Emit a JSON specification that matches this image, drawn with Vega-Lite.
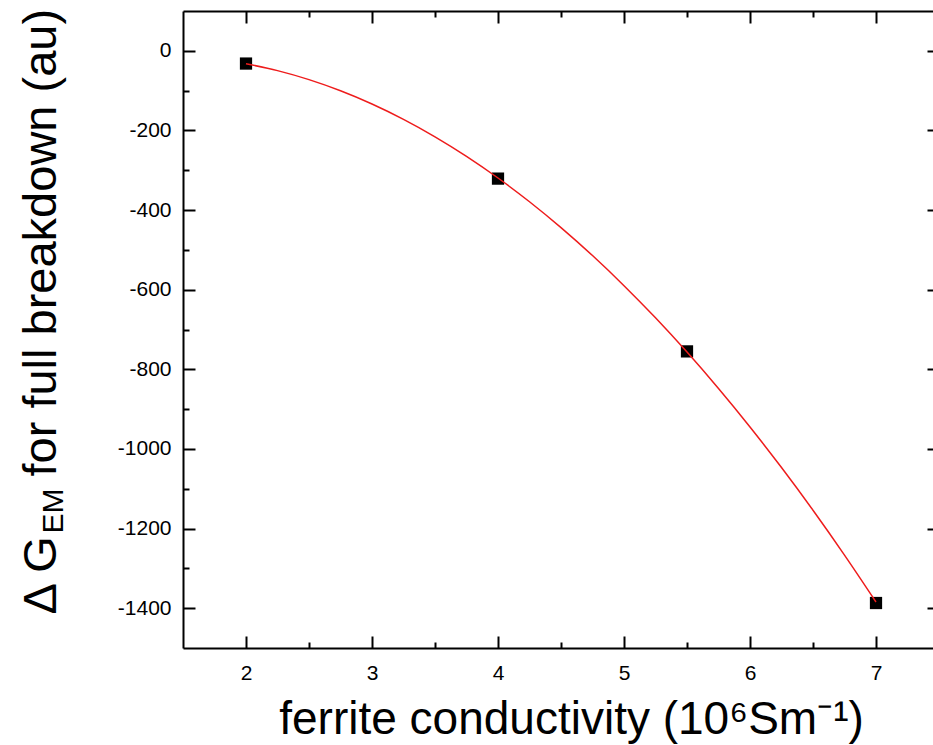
{
  "$schema": "https://vega.github.io/schema/vega-lite/v6.json",
  "width": 756,
  "height": 637,
  "autosize": {"type": "none"},
  "padding": {"left": 183, "top": 11, "right": -6, "bottom": 97},
  "background": "white",
  "config": {
    "view": {"stroke": null},
    "axis": {
      "labelFont": "Liberation Sans",
      "titleFont": "Liberation Sans",
      "labelColor": "black",
      "titleColor": "black",
      "domainColor": "black",
      "tickColor": "black",
      "domainWidth": 2,
      "tickWidth": 2,
      "grid": false,
      "titleFontWeight": "normal",
      "labelFontSize": 21,
      "labelOverlap": false,
      "labelFlush": false
    }
  },
  "datasets": {
    "measured": [
      {"sigma": 2.0, "dG": -32},
      {"sigma": 4.0, "dG": -321},
      {"sigma": 5.5, "dG": -755},
      {"sigma": 7.0, "dG": -1387}
    ],
    "fit": [
      {"sigma": 2.0, "dG": -32.4},
      {"sigma": 2.25, "dG": -49.8},
      {"sigma": 2.5, "dG": -72.4},
      {"sigma": 2.75, "dG": -100.4},
      {"sigma": 3.0, "dG": -133.6},
      {"sigma": 3.25, "dG": -172.2},
      {"sigma": 3.5, "dG": -216.0},
      {"sigma": 3.75, "dG": -265.1},
      {"sigma": 4.0, "dG": -319.5},
      {"sigma": 4.25, "dG": -379.1},
      {"sigma": 4.5, "dG": -444.1},
      {"sigma": 4.75, "dG": -514.3},
      {"sigma": 5.0, "dG": -589.9},
      {"sigma": 5.25, "dG": -670.7},
      {"sigma": 5.5, "dG": -756.8},
      {"sigma": 5.75, "dG": -848.2},
      {"sigma": 6.0, "dG": -944.8},
      {"sigma": 6.25, "dG": -1046.8},
      {"sigma": 6.5, "dG": -1154.0},
      {"sigma": 6.75, "dG": -1266.6},
      {"sigma": 7.0, "dG": -1384.4}
    ]
  },
  "layer": [
    {
      "data": {"name": "measured"},
      "mark": {"type": "point", "shape": "square", "filled": true, "color": "black", "opacity": 1, "size": 150},
      "encoding": {
        "x": {
          "field": "sigma", "type": "quantitative",
          "scale": {"domain": [1.5, 7.5], "nice": false, "zero": false},
          "axis": {
            "orient": "bottom",
            "values": [2, 2.5, 3, 3.5, 4, 4.5, 5, 5.5, 6, 6.5, 7],
            "tickSize": {"condition": {"test": "datum.value % 1 === 0", "value": -12}, "value": -6},
            "labelExpr": "datum.value % 1 === 0 ? '' + datum.value : ''",
            "labelFontSize": 21,
            "labelPadding": 26,
            "title": "ferrite conductivity (10⁶Sm⁻¹)",
            "titleFontSize": 46,
            "titleX": 388,
            "titleY": 85,
            "titleAngle": 0,
            "titleAlign": "center",
            "titleBaseline": "alphabetic"
          }
        },
        "y": {
          "field": "dG", "type": "quantitative",
          "scale": {"domain": [-1500, 100], "nice": false, "zero": false},
          "axis": {
            "orient": "left",
            "values": [-1400, -1300, -1200, -1100, -1000, -900, -800, -700, -600, -500, -400, -300, -200, -100, 0],
            "tickSize": {"condition": {"test": "datum.value % 200 === 0", "value": -12}, "value": -6},
            "labelExpr": "datum.value % 200 === 0 ? '' + datum.value : ''",
            "labelFontSize": 21,
            "labelPadding": 24,
            "title": "Δ G",
            "titleFontSize": 47,
            "titleX": -128,
            "titleY": 603,
            "titleAngle": 270,
            "titleAlign": "left",
            "titleBaseline": "alphabetic"
          }
        }
      }
    },
    {
      "data": {"name": "fit"},
      "mark": {"type": "line", "color": "#ee1c1c", "strokeWidth": 1.5, "interpolate": "monotone"},
      "encoding": {
        "x": {
          "field": "sigma", "type": "quantitative",
          "scale": {"domain": [1.5, 7.5], "nice": false, "zero": false},
          "axis": {
            "orient": "top",
            "values": [2, 2.5, 3, 3.5, 4, 4.5, 5, 5.5, 6, 6.5, 7],
            "tickSize": {"condition": {"test": "datum.value % 1 === 0", "value": -12}, "value": -6},
            "labels": false,
            "title": null
          }
        },
        "y": {
          "field": "dG", "type": "quantitative",
          "scale": {"domain": [-1500, 100], "nice": false, "zero": false},
          "axis": {
            "orient": "right",
            "values": [-1400, -1300, -1200, -1100, -1000, -900, -800, -700, -600, -500, -400, -300, -200, -100, 0],
            "tickSize": {"condition": {"test": "datum.value % 200 === 0", "value": -12}, "value": -6},
            "labels": false,
            "title": null
          }
        }
      }
    },
    {
      "data": {"name": "measured"},
      "mark": {"type": "point", "opacity": 0},
      "encoding": {
        "x": {"field": "sigma", "type": "quantitative", "scale": {"domain": [1.5, 7.5], "nice": false, "zero": false}, "axis": null},
        "y": {
          "field": "dG", "type": "quantitative",
          "scale": {"domain": [-1500, 100], "nice": false, "zero": false},
          "axis": {
            "orient": "left", "labels": false, "ticks": false, "domain": false,
            "title": "EM",
            "titleFontSize": 30,
            "titleX": -121,
            "titleY": 522,
            "titleAngle": 270,
            "titleAlign": "left",
            "titleBaseline": "alphabetic"
          }
        }
      }
    },
    {
      "data": {"name": "measured"},
      "mark": {"type": "point", "opacity": 0},
      "encoding": {
        "x": {"field": "sigma", "type": "quantitative", "scale": {"domain": [1.5, 7.5], "nice": false, "zero": false}, "axis": null},
        "y": {
          "field": "dG", "type": "quantitative",
          "scale": {"domain": [-1500, 100], "nice": false, "zero": false},
          "axis": {
            "orient": "left", "labels": false, "ticks": false, "domain": false,
            "title": "for full breakdown (au)",
            "titleFontSize": 47,
            "titleX": -128,
            "titleY": 465,
            "titleAngle": 270,
            "titleAlign": "left",
            "titleBaseline": "alphabetic"
          }
        }
      }
    }
  ],
  "resolve": {"axis": {"x": "independent", "y": "independent"}}
}
